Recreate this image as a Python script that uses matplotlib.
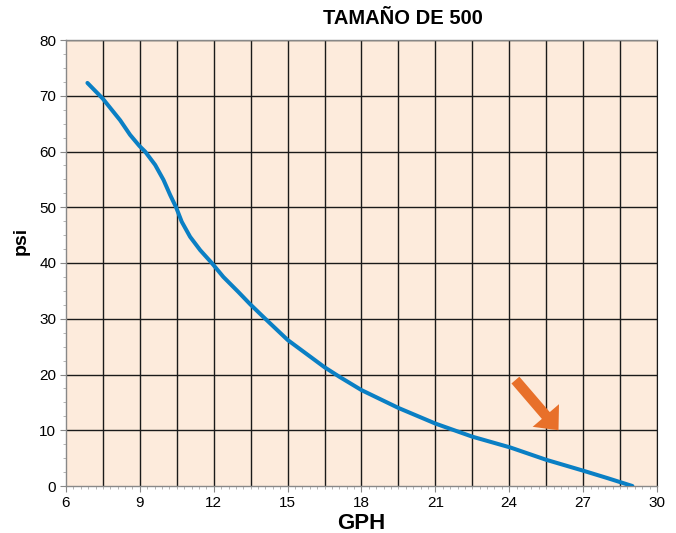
import numpy as np
import matplotlib.pyplot as plt
from matplotlib.ticker import MultipleLocator
from matplotlib.patches import FancyArrowPatch

# curve (GPH vs psi)
gph = [6.87, 7.49, 8.2, 8.6, 8.98, 9.21, 9.62, 9.96, 10.23, 10.47, 10.70,
       11.04, 11.45, 11.92, 12.39, 13.0, 13.48, 14.02, 15.0, 16.5, 17.1,
       18.0, 19.5, 21.0, 22.5, 24.05, 25.5, 27.0, 28.0, 29.0]
psi = [72.3, 69.5, 65.6, 63.0, 61.0, 60.0, 57.6, 54.9, 52.2, 50.0, 47.4,
       44.7, 42.3, 40.0, 37.5, 34.8, 32.6, 30.3, 26.2, 21.3, 19.6,
       17.2, 14.0, 11.2, 8.85, 6.9, 4.7, 2.75, 1.4, 0.0]

arrow_tail = (24.25, 19.0)
arrow_tip = (26.0, 10.0)

x_ticks = [6, 9, 12, 15, 18, 21, 24, 27, 30]
y_ticks = [0, 10, 20, 30, 40, 50, 60, 70, 80]

plt.rcParams['font.family'] = ['Liberation Sans', 'DejaVu Sans']

fig = plt.figure(figsize=(6.76, 5.33), dpi=100)
ax = fig.add_axes([66/676, 1-486/533, 591/676, 446/533])
ax.set_facecolor('#fdebdc')

ax.set_xlim(6, 30)
ax.set_ylim(0, 80)
ax.set_xticks(x_ticks)
ax.set_yticks(y_ticks)
ax.xaxis.set_minor_locator(MultipleLocator(0.3))
ax.yaxis.set_minor_locator(MultipleLocator(2.5))

# grid: every 1.5 GPH, every 10 psi
for gx in np.arange(7.5, 30.1, 1.5):
    ax.axvline(gx, color='#1a1a1a', lw=1.0, zorder=1)
for gy in y_ticks[1:]:
    ax.axhline(gy, color='#1a1a1a', lw=1.0, zorder=1)

ax.plot(gph, psi, color='#0a7fc4', lw=2.9, solid_capstyle='round',
        solid_joinstyle='round', zorder=3)

arr = FancyArrowPatch(arrow_tail, arrow_tip, mutation_scale=1,
                      arrowstyle='simple,head_width=25,head_length=14,tail_width=7.5',
                      color='#e8702a', lw=0, shrinkA=0, shrinkB=0, zorder=4)
ax.add_patch(arr)

for s in ['left', 'top', 'bottom']:
    ax.spines[s].set_color('#888888')
    ax.spines[s].set_linewidth(1.0)
ax.spines['right'].set_color('#1a1a1a')

ax.tick_params(axis='both', which='major', labelsize=11, length=4, color='#888888', pad=3)
ax.tick_params(axis='both', which='minor', length=2, color='#aaaaaa')

ax.set_xlabel('GPH', fontsize=16, fontweight='bold')
ax.xaxis.set_label_coords(0.5, -0.06)
ax.set_ylabel('psi', fontsize=14, fontweight='bold')
ax.yaxis.set_label_coords(-0.062, 0.55)
fig.text(403/676, 1-18/533, 'TAMAÑO DE 500', ha='center', va='center',
         fontsize=14.5, fontweight='bold')

plt.savefig('out.png', dpi=100)
